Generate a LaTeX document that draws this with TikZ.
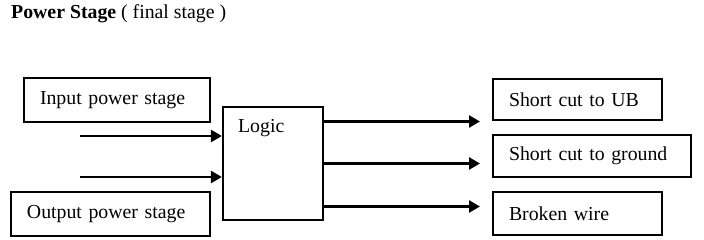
\documentclass[tikz,border=0pt]{standalone}
\usepackage{fontspec}
\setmainfont{Liberation Serif}
\usetikzlibrary{arrows.meta,positioning}

\begin{document}
\begin{tikzpicture}[x=1pt,y=-1pt,font=\fontsize{19.8}{23}\selectfont,
  box/.style={draw,line width=2.2pt,inner xsep=16pt,inner ysep=0pt,align=left},
  arr/.style={line width=2.6pt,-{Triangle[length=11pt,width=12pt]}}]
\useasboundingbox (0,0) rectangle (704,240);
\node[anchor=base west,inner sep=0] (title) at (11,19) {\textbf{Power Stage} ( final stage )};
% left side
\node[box,text width=154,minimum height=44] (inps) at (117,100) {Input power stage};
\node[box,text width=167,minimum height=44] (outps) at (110.5,214) {Output power stage};
\node[box,minimum width=100,minimum height=113] (logic) at (273,163.5) {};
\node[anchor=base west,inner sep=0] (logictxt) at ([xshift=16pt,yshift=-27pt]logic.north west) {Logic};
% right side
\node[box,text width=137,minimum height=41] (ub) at (577.5,99.5) {Short cut to UB};
\node[box,text width=166,minimum height=42] (gnd) at (592,156) {Short cut to ground};
\node[box,text width=137,minimum height=43] (wire) at (577.5,213.5) {Broken wire};
% arrows
\coordinate (in1) at (80,136); \coordinate (in2) at (80,177);
\coordinate (out1) at (480,121.5); \coordinate (out2) at (480,163.5); \coordinate (out3) at (480,206.5);
\draw[arr] (in1) -- (in1 -| logic.west);
\draw[arr] (in2) -- (in2 -| logic.west);
\draw[arr] (out1 -| logic.east) -- (out1);
\draw[arr] (out2 -| logic.east) -- (out2);
\draw[arr] (out3 -| logic.east) -- (out3);
\end{tikzpicture}
\end{document}
